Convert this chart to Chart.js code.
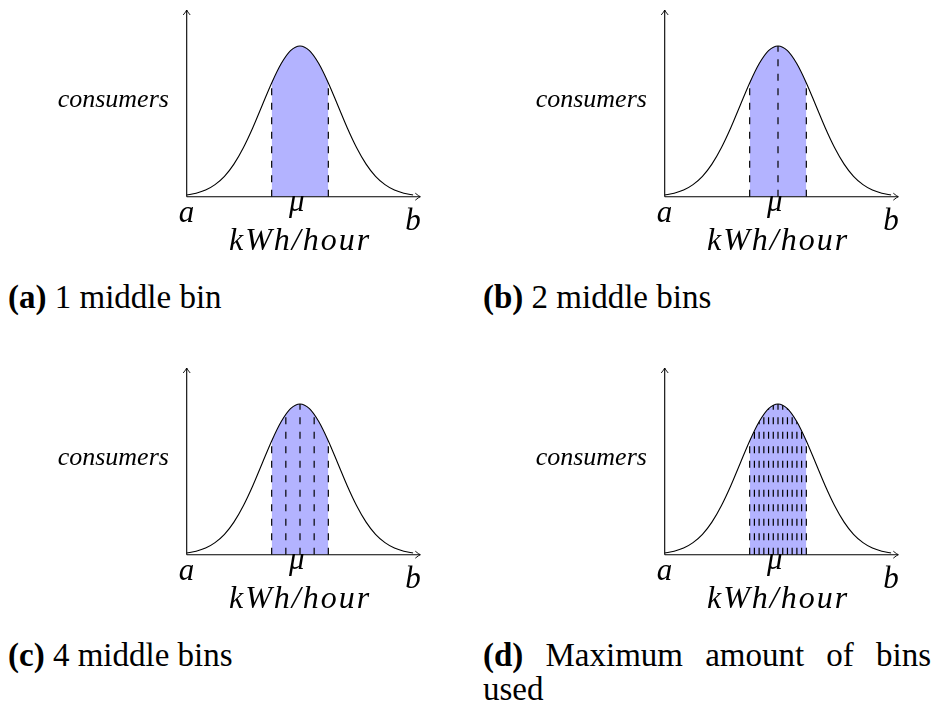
<!DOCTYPE html>
<html>
<head>
<meta charset="utf-8">
<script src="https://cdn.jsdelivr.net/npm/chart.js@4.4.0/dist/chart.umd.min.js"></script>
<style>
  html, body { margin: 0; padding: 0; background: #fff; }
  body { width: 933px; height: 708px; position: relative; overflow: hidden; font-family: "Liberation Serif", serif; }
  canvas { position: absolute; }
  .cap { position: absolute; font-size: 33px; line-height: 34px; color: #000; white-space: nowrap; }
  .cap.wrap { white-space: normal; width: 448px; text-align: justify; }
  .math { position: absolute; font-family: "Liberation Serif", serif; font-style: italic; line-height: 1;
          white-space: nowrap; color: #000; }
</style>
</head>
<body>
<canvas id="chartA" width="466" height="265" style="left:0;top:0"></canvas>
<canvas id="chartB" width="466" height="265" style="left:478px;top:0"></canvas>
<canvas id="chartC" width="466" height="265" style="left:0;top:358px"></canvas>
<canvas id="chartD" width="466" height="265" style="left:478px;top:358px"></canvas>

<div class="cap" style="left:8px;top:280px"><b>(a)</b> 1 middle bin</div>
<div class="cap" style="left:483px;top:280px"><b>(b)</b> 2 middle bins</div>
<div class="cap" style="left:8px;top:638px"><b>(c)</b> 4 middle bins</div>
<div class="cap wrap" style="left:483px;top:638px"><b>(d)</b> Maximum amount of bins used</div>

<script>
// bell curve, x in units of sigma around mu, height relative to the peak
var curveX = [-3, -2.75, -2.5, -2.25, -2, -1.75, -1.5, -1.25, -1, -0.75, -0.5, -0.25, 0,
              0.25, 0.5, 0.75, 1, 1.25, 1.5, 1.75, 2, 2.25, 2.5, 2.75, 3];
var curveY = [0.011, 0.023, 0.044, 0.08, 0.135, 0.216, 0.325, 0.458, 0.607, 0.755, 0.882, 0.969, 1,
              0.969, 0.882, 0.755, 0.607, 0.458, 0.325, 0.216, 0.135, 0.08, 0.044, 0.023, 0.011];

// bin edges of the shaded middle part for each panel
var edgesA = [-0.75, 0.75];
var edgesB = [-0.75, 0, 0.75];
var edgesC = [-0.75, -0.375, 0, 0.375, 0.75];
var edgesD = [-0.75, -0.625, -0.5, -0.375, -0.25, -0.125, 0, 0.125, 0.25, 0.375, 0.5, 0.625, 0.75];

// axis labels
var tickLabels = ['a', '\u03bc', 'b'];
var xTitle = 'kWh/hour';
var yTitle = 'consumers';

var SHADE = 'rgb(179, 179, 255)';

function arrowHead(ctx, x, y, dx, dy) {
    // small open arrow tip pointing along (dx, dy)
    var len = 5, half = 3.5;
    var nx = -dy, ny = dx;
    ctx.beginPath();
    ctx.moveTo(x - dx * len + nx * half, y - dy * len + ny * half);
    ctx.quadraticCurveTo(x - dx * 1.5 + nx * 0.6, y - dy * 1.5 + ny * 0.6, x, y);
    ctx.quadraticCurveTo(x - dx * 1.5 - nx * 0.6, y - dy * 1.5 - ny * 0.6, x - dx * len - nx * half, y - dy * len - ny * half);
    ctx.stroke();
}

var binPlugin = {
    id: 'bins',
    afterDatasetsDraw: function (chart, args, opts) {
        var ctx = chart.ctx;
        var area = chart.chartArea;
        var x = chart.scales.x;
        var y = chart.scales.y;
        var y0 = y.getPixelForValue(0);
        var curve = chart.getDatasetMeta(0).dataset;

        // dashed bin edges, cut off at the curve
        ctx.save();
        if (curve && typeof curve.path === 'function') {
            ctx.beginPath();
            curve.path(ctx);
            ctx.lineTo(x.getPixelForValue(curveX[curveX.length - 1]), y0);
            ctx.lineTo(x.getPixelForValue(curveX[0]), y0);
            ctx.closePath();
            ctx.clip();
        }
        ctx.strokeStyle = '#000';
        ctx.lineWidth = 1.2;
        ctx.setLineDash([7, 7.5]);
        opts.edges.forEach(function (v) {
            var px = x.getPixelForValue(v);
            ctx.beginPath();
            ctx.moveTo(px, y0);
            ctx.lineTo(px, area.top);
            ctx.stroke();
        });
        ctx.restore();

        // axes with arrows
        ctx.save();
        ctx.strokeStyle = '#000';
        ctx.lineWidth = 1.1;
        ctx.beginPath();
        ctx.moveTo(area.left, y0);
        ctx.lineTo(area.right + 7, y0);
        ctx.moveTo(area.left, y0);
        ctx.lineTo(area.left, area.top);
        ctx.stroke();
        ctx.lineWidth = 0.9;
        arrowHead(ctx, area.right + 7, y0, 1, 0);
        arrowHead(ctx, area.left, area.top, 0, -1);
        ctx.restore();
    }
};

// place a text label so its baseline sits at (px, baseline)
function addLabel(text, px, baseline, size, align, extraStyle) {
    var d = document.createElement('div');
    d.className = 'math';
    d.textContent = text;
    d.style.fontSize = size + 'px';
    d.style.top = (baseline - 0.8375 * size) + 'px';
    if (extraStyle) d.style.cssText += extraStyle;
    document.body.appendChild(d);
    var w = d.offsetWidth;
    if (align === 'center') d.style.left = (px - w / 2) + 'px';
    else if (align === 'right') d.style.left = (px - w) + 'px';
    else d.style.left = px + 'px';
}

function makePanel(id, edges) {
    var el = document.getElementById(id);
    var lo = edges[0];
    var hi = edges[edges.length - 1];

    var curvePts = curveX.map(function (v, i) { return { x: v, y: curveY[i] }; });
    var shadePts = curvePts.filter(function (p) { return p.x >= lo && p.x <= hi; });

    var chart = new Chart(el, {
        type: 'line',
        data: {
            datasets: [{
                label: 'curve',
                data: curvePts,
                borderColor: '#000',
                borderWidth: 1.1,
                pointRadius: 0,
                fill: false,
                cubicInterpolationMode: 'monotone'
            }, {
                label: 'middle bins',
                data: shadePts,
                borderWidth: 0,
                borderColor: 'rgba(0,0,0,0)',
                backgroundColor: SHADE,
                pointRadius: 0,
                fill: 'origin',
                cubicInterpolationMode: 'monotone'
            }]
        },
        options: {
            responsive: false,
            animation: false,
            devicePixelRatio: 1,
            layout: { padding: { left: 186.7, right: 52.7, top: 10, bottom: 68.3 } },
            scales: {
                x: { type: 'linear', min: -3, max: 3, display: false },
                y: { type: 'linear', min: 0, max: 1.239, display: false }
            },
            plugins: {
                legend: { display: false },
                tooltip: { enabled: false },
                bins: { edges: edges }
            }
        },
        plugins: [binPlugin]
    });

    // axis labels as page text, placed from the chart's own scales
    var ox = el.offsetLeft, oy = el.offsetTop;
    var xs = chart.scales.x, ys = chart.scales.y;
    var y0 = oy + ys.getPixelForValue(0);
    addLabel(tickLabels[0], ox + xs.getPixelForValue(curveX[0]), y0 + 25, 31, 'center');
    addLabel(tickLabels[1], ox + xs.getPixelForValue(0) - 3, y0 + 14, 31, 'center');
    addLabel(tickLabels[2], ox + xs.getPixelForValue(curveX[curveX.length - 1]), y0 + 33, 31, 'center');
    addLabel(xTitle, ox + xs.getPixelForValue(0), y0 + 53, 32, 'center', 'letter-spacing:2px;');
    addLabel(yTitle, ox + chart.chartArea.left - 18, y0 - 89, 26, 'right');
}

makePanel('chartA', edgesA);
makePanel('chartB', edgesB);
makePanel('chartC', edgesC);
makePanel('chartD', edgesD);
</script>
</body>
</html>
